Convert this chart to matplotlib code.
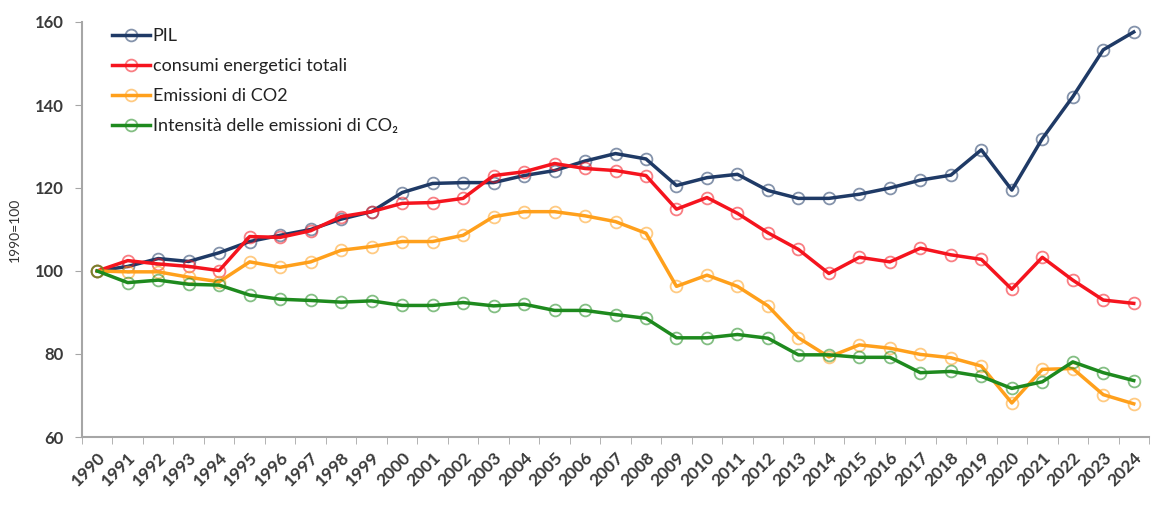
import matplotlib
matplotlib.use("Agg")
import matplotlib.pyplot as plt
import numpy as np

plt.rcParams['font.family'] = ['Lato', 'DejaVu Sans']

years = list(range(1990, 2025))
pil = [100, 101.1, 103.0, 102.3, 104.4, 107.1, 108.6, 110.0, 112.5, 114.3,
       118.9, 121.1, 121.3, 121.3, 123.0, 124.2, 126.5, 128.3, 127.0, 120.6,
       122.5, 123.3, 119.4, 117.5, 117.5, 118.5, 120.0, 121.9, 123.1, 129.2,
       119.5, 131.9, 142.0, 153.3, 157.6]
consumi = [100, 102.5, 101.7, 101.1, 100.1, 108.3, 108.1, 109.7, 113.1, 114.3,
           116.3, 116.5, 117.5, 123.0, 123.9, 125.9, 124.7, 124.2, 123.0, 114.9,
           117.7, 113.9, 109.2, 105.2, 99.4, 103.3, 102.2, 105.5, 103.9, 102.8,
           95.6, 103.3, 97.8, 93.0, 92.2]
emissioni = [100, 99.8, 99.8, 98.5, 97.4, 102.2, 100.9, 102.2, 105.0, 105.9,
             107.1, 107.1, 108.6, 113.1, 114.3, 114.3, 113.3, 111.9, 109.1, 96.3,
             99.0, 96.3, 91.6, 83.9, 79.3, 82.2, 81.4, 79.9, 79.1, 77.1,
             68.2, 76.3, 76.5, 70.2, 68.0]
intensita = [100, 97.2, 97.8, 96.8, 96.6, 94.2, 93.2, 92.9, 92.5, 92.8,
             91.7, 91.7, 92.4, 91.6, 92.0, 90.5, 90.5, 89.5, 88.6, 83.9,
             83.9, 84.7, 83.8, 79.8, 79.8, 79.2, 79.2, 75.5, 75.8, 74.6,
             71.7, 73.3, 78.1, 75.5, 73.6]

labels = ["PIL", "consumi energetici totali", "Emissioni di CO2",
          "Intensità delle emissioni di CO\u2082"]
colors = ["#1F3A66", "#F5141E", "#FFA01C", "#1E8A1E"]
series = [pil, consumi, emissioni, intensita]
yticks = [60, 80, 100, 120, 140, 160]

fig = plt.figure(figsize=(11.71, 5.12), dpi=100)
ax = fig.add_axes([82/1171, 1-437/512, (1149-82)/1171, (437-22)/512])

x = np.arange(len(years))
for vals, c, lab in zip(series, colors, labels):
    ax.plot(x, vals, color=c, linewidth=2.5, marker='o', markersize=8.5,
            markerfacecolor='none', markeredgecolor=matplotlib.colors.to_rgba(c, 0.55),
            markeredgewidth=1.3, label=lab, solid_joinstyle='round')

ax.set_xlim(-0.5, len(years) - 0.5)
ax.set_ylim(60, 160)
ax.set_yticks(yticks)
ax.set_xticks(x)
ax.set_xticklabels([str(y) for y in years], rotation=45, ha='right',
                   rotation_mode='anchor', fontsize=12.5, fontweight='bold',
                   color='#3A3A3A')
ax.set_xticks(np.arange(-0.5, len(years), 1), minor=True)
ax.tick_params(axis='x', which='major', length=0, pad=9)
ax.tick_params(axis='x', which='minor', length=5, color='#A6A6A6', direction='out')
ax.tick_params(axis='y', length=5, color='#A6A6A6', labelsize=12,
               labelcolor='#3A3A3A', pad=8)
for t in ax.get_yticklabels():
    t.set_fontweight('bold')
for s in ['top', 'right']:
    ax.spines[s].set_visible(False)
for s in ['left', 'bottom']:
    ax.spines[s].set_color('#A6A6A6')
    ax.spines[s].set_linewidth(1.5)
ax.set_ylabel("1990=100", fontsize=10, color='#333333', labelpad=10)

leg = ax.legend(loc='upper left', bbox_to_anchor=(0.028, 0.985), frameon=False,
                fontsize=13, handlelength=2.1, handletextpad=0.15,
                labelspacing=0.78, borderpad=0, borderaxespad=0)
for t in leg.get_texts():
    t.set_color('#222222')

fig.savefig("out.png", dpi=100)
